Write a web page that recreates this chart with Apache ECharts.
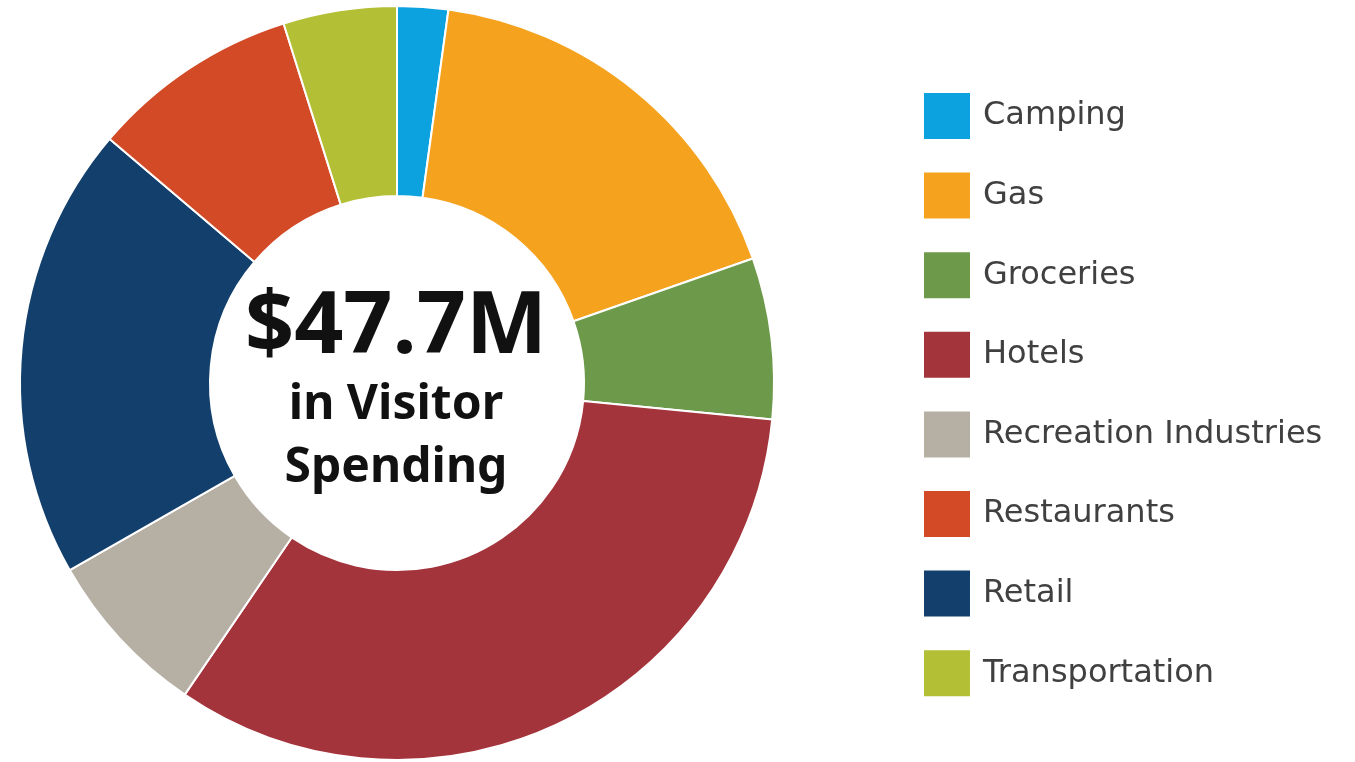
<!DOCTYPE html>
<html>
<head>
<meta charset="utf-8">
<script src="https://cdn.jsdelivr.net/npm/echarts@6/dist/echarts.min.js"></script>
<style>
html,body{margin:0;padding:0;background:#fff;}
#chart{width:1355px;height:762px;}
</style>
</head>
<body>
<div id="chart"></div>
<script>
// Slice order as drawn clockwise from 12 o'clock
const categories = ["Camping", "Gas", "Groceries", "Hotels", "Recreation Industries", "Retail", "Restaurants", "Transportation"];
// Visitor spending, $ millions (total 47.7)
const values = [1.04, 8.33, 3.29, 15.73, 3.44, 9.29, 4.26, 2.32];
const colors = ["#0ba2df", "#f5a21e", "#6c994a", "#a4343b", "#b6b0a4", "#123f6b", "#d24a26", "#b3bf35"];
// Legend order
const legendOrder = ["Camping", "Gas", "Groceries", "Hotels", "Recreation Industries", "Restaurants", "Retail", "Transportation"];
const centerLines = ["$47.7M", "in Visitor", "Spending"];

const chart = echarts.init(document.getElementById('chart'), null, {renderer: 'canvas'});
const pieData = categories.map((c, i) => ({name: c, value: values[i], itemStyle: {color: colors[i]}}));

chart.setOption({
  animation: false,
  backgroundColor: '#ffffff',
  legend: {
    orient: 'vertical',
    left: 922,
    top: 91,
    padding: 0,
    itemWidth: 48,
    itemHeight: 48,
    itemGap: 29.6,
    icon: 'rect',
    data: legendOrder,
    selectedMode: false,
    textStyle: {
      fontFamily: 'DejaVu Sans',
      fontSize: 32,
      color: '#404040',
      padding: [5, 0, 0, 7]
    }
  },
  graphic: [
    {type: 'text', x: 396, y: 328, style: {text: centerLines[0], fontFamily: 'Noto Sans', fontWeight: 'bold', fontSize: 86, fill: '#111', align: 'center', verticalAlign: 'middle'}},
    {type: 'text', x: 396, y: 405, style: {text: centerLines[1], fontFamily: 'Noto Sans', fontWeight: 'bold', fontSize: 48, fill: '#111', align: 'center', verticalAlign: 'middle'}},
    {type: 'text', x: 396, y: 468, style: {text: centerLines[2], fontFamily: 'Noto Sans', fontWeight: 'bold', fontSize: 48, fill: '#111', align: 'center', verticalAlign: 'middle'}}
  ],
  series: [{
    type: 'pie',
    center: [397, 383],
    radius: [187, 377],
    startAngle: 90,
    clockwise: true,
    avoidLabelOverlap: false,
    label: {show: false},
    labelLine: {show: false},
    emphasis: {disabled: true},
    itemStyle: {borderColor: '#ffffff', borderWidth: 2},
    data: pieData
  }]
});
</script>
</body>
</html>
